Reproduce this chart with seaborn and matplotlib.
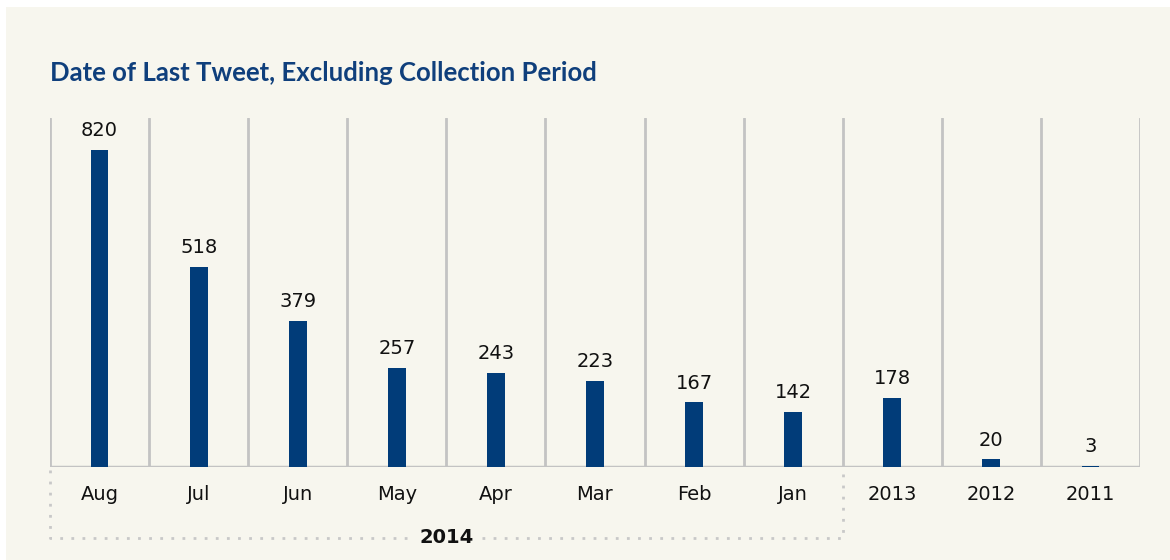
import matplotlib
matplotlib.use('Agg')
import matplotlib.pyplot as plt
import matplotlib.transforms as mtransforms
from matplotlib.patches import Rectangle
import seaborn as sns

# data
categories = ['Aug', 'Jul', 'Jun', 'May', 'Apr', 'Mar', 'Feb', 'Jan', '2013', '2012', '2011']
tweets = [820, 518, 379, 257, 243, 223, 167, 142, 178, 20, 3]
group_label = '2014'
group_span = (0, 7)  # Aug..Jan belong to 2014

cream = '#f7f6ee'
navy = '#013c79'
grid_grey = '#c3c3c3'
text_col = '#111111'

sns.set_style('white', {'axes.facecolor': cream, 'figure.facecolor': 'white'})
plt.rcParams['font.family'] = ['DejaVu Sans']

fig = plt.figure(figsize=(11.7, 5.6), dpi=100)
fig.patches.append(Rectangle((6 / 1170, 0), 1, (560 - 7) / 560, transform=fig.transFigure,
                             facecolor=cream, edgecolor='none', zorder=-10))
ax = fig.add_axes([50 / 1170, (560 - 467) / 560, 1090 / 1170, 349 / 560])

sns.barplot(x=categories, y=tweets, color=navy, width=0.18, saturation=1, ax=ax,
            linewidth=0, zorder=3)

n = len(categories)
for i in range(n + 1):
    ax.axvline(i - 0.5, color=grid_grey, lw=2, zorder=1)
ax.axhline(0, color=grid_grey, lw=2.5, zorder=2)

ax.set_xlim(-0.5, n - 0.5)
ax.set_ylim(0, 903)
for s in ax.spines.values():
    s.set_visible(False)
ax.set_yticks([])
ax.set_xlabel('')
ax.set_ylabel('')
ax.tick_params(axis='x', length=0, pad=13, labelsize=14, labelcolor=text_col)

for i, v in enumerate(tweets):
    ax.annotate(str(v), (i, v), xytext=(0, 7), textcoords='offset points',
                ha='center', va='bottom', fontsize=14, color=text_col)

# dotted bracket for the 2014 months
tr = mtransforms.blended_transform_factory(ax.transData, ax.transAxes)
x0, x1 = group_span[0] - 0.5, group_span[1] + 0.5
ax.plot([x0, x0, x1, x1], [-0.01, -0.203, -0.203, -0.01], transform=tr, clip_on=False,
        color='#c8c8c8', lw=2, linestyle=(0, (1, 3)), zorder=2)
ax.text((x0 + x1) / 2, -0.203, group_label, transform=tr, ha='center', va='center',
        fontsize=14, fontweight='bold', color=text_col, zorder=5,
        bbox=dict(facecolor=cream, edgecolor='none', pad=4))

fig.text(50 / 1170, 1 - 81 / 560, 'Date of Last Tweet, Excluding Collection Period',
         ha='left', va='baseline', fontsize=18.5, fontweight='bold', color='#0f3f7c',
         family=['Lato', 'DejaVu Sans'])

fig.savefig('out.png', dpi=100)
